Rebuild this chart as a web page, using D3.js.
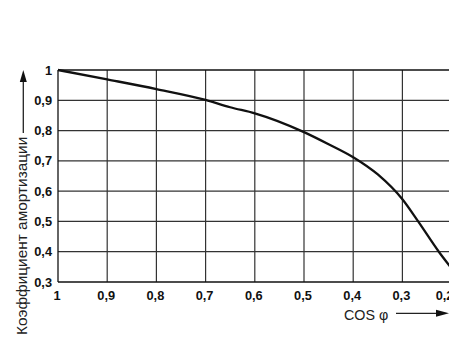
<!DOCTYPE html>
<html><head><meta charset="utf-8">
<script src="https://cdn.jsdelivr.net/npm/d3@7"></script>
<style>html,body{margin:0;padding:0;background:#fff;}svg{display:block;}</style>
</head><body>
<script>
const xTicks = [1, 0.9, 0.8, 0.7, 0.6, 0.5, 0.4, 0.3, 0.2];
const yTicks = [0.3, 0.4, 0.5, 0.6, 0.7, 0.8, 0.9, 1];
const cosPhi = [1, 0.9, 0.8, 0.7, 0.65, 0.6, 0.5, 0.45, 0.4, 0.35, 0.3, 0.268, 0.226, 0.2];
const coef   = [1, 0.969, 0.937, 0.901, 0.877, 0.857, 0.795, 0.755, 0.712, 0.655, 0.573, 0.5, 0.4, 0.345];
const xTitle = "COS φ";
const yTitle = "Коэффициент амортизации";

const W = 449, H = 342;
const svg = d3.select("body").append("svg").attr("width", W).attr("height", H);
const x = d3.scaleLinear().domain([1, 0.2]).range([58, 451.6]);
const y = d3.scaleLinear().domain([0.3, 1]).range([282, 70]);
const fmt = d => d === 1 ? "1" : d3.format(".1f")(d).replace(".", ",");

// grid
svg.append("g").selectAll("line").data(xTicks.slice(1)).join("line")
  .attr("x1", d => x(d)).attr("x2", d => x(d)).attr("y1", y(1)).attr("y2", y(0.3))
  .attr("stroke", "#333").attr("stroke-width", 1.2);
svg.append("g").selectAll("line").data(yTicks.slice(1, -1)).join("line")
  .attr("x1", x(1)).attr("x2", W).attr("y1", d => y(d)).attr("y2", d => y(d))
  .attr("stroke", "#333").attr("stroke-width", 1.2);
// frame
svg.append("line").attr("x1", x(1)).attr("x2", W).attr("y1", y(1)).attr("y2", y(1)).attr("stroke", "#111").attr("stroke-width", 1.3);
svg.append("line").attr("x1", x(1)).attr("x2", W).attr("y1", y(0.3)).attr("y2", y(0.3)).attr("stroke", "#111").attr("stroke-width", 1.3);
svg.append("line").attr("x1", x(1)).attr("x2", x(1)).attr("y1", y(1)).attr("y2", y(0.3)).attr("stroke", "#111").attr("stroke-width", 1.3);

// tick labels
svg.append("g").selectAll("text").data(yTicks).join("text")
  .attr("x", 52).attr("y", d => y(d) + 4.5).attr("text-anchor", "end")
  .attr("font-family", "Liberation Sans, Arial, sans-serif").attr("font-weight", "bold").attr("font-size", 12.8)
  .attr("fill", "#111").text(fmt);
svg.append("g").selectAll("text").data(xTicks).join("text")
  .attr("x", d => d === 0.2 ? x(d) - 7 : x(d) - 1).attr("y", 299.5).attr("text-anchor", "middle")
  .attr("font-family", "Liberation Sans, Arial, sans-serif").attr("font-weight", "bold").attr("font-size", 12.8)
  .attr("fill", "#111").text(fmt);

// curve
const pts = cosPhi.map((c, i) => [c, coef[i]]);
svg.append("path").datum(pts)
  .attr("d", d3.line().x(d => x(d[0])).y(d => y(d[1])).curve(d3.curveMonotoneX))
  .attr("fill", "none").attr("stroke", "#111").attr("stroke-width", 2.3);

// axis titles
svg.append("text").attr("x", 344).attr("y", 319.5)
  .attr("font-family", "Liberation Sans, Arial, sans-serif").attr("font-size", 14.3).attr("fill", "#222").text(xTitle);
svg.append("line").attr("x1", 396).attr("x2", 438).attr("y1", 313.3).attr("y2", 313.3).attr("stroke", "#222").attr("stroke-width", 1.3);
svg.append("path").attr("d", "M436,309.8L449,313.3L436,316.8Z").attr("fill", "#111");

svg.append("text").attr("transform", "translate(27,335) rotate(-90)")
  .attr("font-family", "Liberation Sans, Arial, sans-serif").attr("font-size", 15.4).attr("fill", "#222").text(yTitle);
svg.append("line").attr("x1", 23.3).attr("x2", 23.3).attr("y1", 133).attr("y2", 80).attr("stroke", "#222").attr("stroke-width", 1.3);
svg.append("path").attr("d", "M19.8,82L23.3,70L26.8,82Z").attr("fill", "#111");
</script>
</body></html>
